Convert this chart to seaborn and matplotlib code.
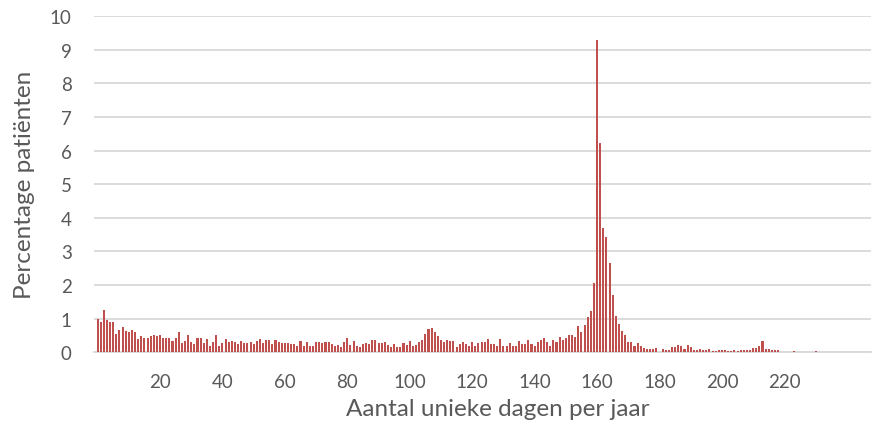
import matplotlib
matplotlib.use("Agg")
import matplotlib.pyplot as plt
import seaborn as sns
import pandas as pd

# ---- data ----
days = list(range(0, 248))
v_000_028 = [0.98, 0.90, 1.26, 0.97, 0.91, 0.90, 0.55, 0.66, 0.74, 0.64, 0.60, 0.66, 0.60, 0.40, 0.49,
             0.44, 0.44, 0.49, 0.52, 0.48, 0.51, 0.44, 0.44, 0.44, 0.35, 0.44, 0.60, 0.29, 0.33]
v_029_059 = [0.52, 0.32, 0.24, 0.42, 0.44, 0.27, 0.40, 0.19, 0.30, 0.52, 0.20, 0.27, 0.40, 0.32, 0.35,
             0.30, 0.26, 0.34, 0.28, 0.28, 0.30, 0.26, 0.33, 0.39, 0.27, 0.36, 0.36, 0.26, 0.36, 0.31,
             0.27]
v_060_091 = [0.27, 0.28, 0.24, 0.24, 0.19, 0.35, 0.19, 0.31, 0.20, 0.20, 0.30, 0.30, 0.27, 0.31, 0.31,
             0.25, 0.19, 0.22, 0.17, 0.31, 0.43, 0.22, 0.34, 0.19, 0.17, 0.24, 0.29, 0.25, 0.37, 0.36,
             0.27, 0.27]
v_092_122 = [0.31, 0.22, 0.15, 0.25, 0.15, 0.15, 0.28, 0.22, 0.34, 0.20, 0.22, 0.32, 0.36, 0.53, 0.70,
             0.73, 0.61, 0.47, 0.38, 0.31, 0.36, 0.35, 0.34, 0.16, 0.26, 0.30, 0.24, 0.19, 0.30, 0.19,
             0.28]
v_123_153 = [0.30, 0.31, 0.40, 0.25, 0.24, 0.18, 0.40, 0.19, 0.19, 0.28, 0.19, 0.19, 0.35, 0.25, 0.25,
             0.38, 0.24, 0.18, 0.32, 0.38, 0.43, 0.32, 0.20, 0.36, 0.30, 0.45, 0.36, 0.42, 0.52, 0.52,
             0.46]
v_154_160 = [0.77, 0.60, 0.82, 1.04, 1.22, 2.06, 9.30]
v_161_179 = [6.22, 3.71, 3.43, 2.66, 1.71, 1.09, 0.83, 0.63, 0.50, 0.32, 0.31, 0.20, 0.28, 0.18,
             0.13, 0.10, 0.10, 0.10, 0.12]
v_180_218 = [0.0, 0.10, 0.07, 0.07, 0.15, 0.15, 0.22, 0.19, 0.10, 0.22, 0.15, 0.07, 0.07, 0.10, 0.06,
             0.07, 0.10, 0.03, 0.03, 0.07, 0.07, 0.07, 0.04, 0.04, 0.07, 0.04, 0.07, 0.07, 0.07, 0.07,
             0.13, 0.13, 0.20, 0.34, 0.10, 0.10, 0.07, 0.07, 0.07]
v_219_247 = [0.0, 0.0, 0.0, 0.0, 0.03, 0.0, 0.0, 0.0, 0.0, 0.0, 0.0, 0.03, 0.0, 0.0, 0.0,
             0.0, 0.0, 0.0, 0.0, 0.0, 0.0, 0.0, 0.0, 0.0, 0.0, 0.0, 0.0, 0.0, 0.0]
percentages = (v_000_028 + v_029_059 + v_060_091 + v_092_122 + v_123_153
               + v_154_160 + v_161_179 + v_180_218 + v_219_247)
x_tick_labels = [20, 40, 60, 80, 100, 120, 140, 160, 180, 200, 220]
y_ticks = [0, 1, 2, 3, 4, 5, 6, 7, 8, 9, 10]
x_title = "Aantal unieke dagen per jaar"
y_title = "Percentage patiënten"

df = pd.DataFrame({"dag": days, "pct": percentages})

# ---- style ----
sns.set_style("white")
plt.rcParams["font.family"] = ["Lato", "DejaVu Sans"]

W, H = 878, 439
left_px, right_px, top_px, bottom_px = 94, 871, 17, 353.3
fig = plt.figure(figsize=(W / 100, H / 100), dpi=100)
ax = fig.add_axes([left_px / W, 1 - bottom_px / H,
                   (right_px - left_px) / W, (bottom_px - top_px) / H])

sns.barplot(data=df, x="dag", y="pct", order=days, color="#C0504D",
            saturation=1, width=0.66, ax=ax, edgecolor="none", linewidth=0)

ax.set_xlim(-1.15, len(days) - 0.25)
ax.set_ylim(0, 10)
ax.set_yticks(y_ticks)
ax.set_yticklabels([str(t) for t in y_ticks])
ax.set_xticks([days.index(d) for d in x_tick_labels])
ax.set_xticklabels([str(d) for d in x_tick_labels])

ax.yaxis.grid(True, color="#D9D9D9", linewidth=1.3)
ax.xaxis.grid(False)
ax.set_axisbelow(True)
for s in ["top", "right", "left"]:
    ax.spines[s].set_visible(False)
ax.spines["bottom"].set_color("#D9D9D9")
ax.spines["bottom"].set_linewidth(1.3)
ax.spines["bottom"].set_zorder(0.5)

ax.tick_params(axis="both", length=0, labelsize=13.5, colors="#595959")
ax.tick_params(axis="y", pad=16)
ax.tick_params(axis="x", pad=15)

ax.set_xlabel(x_title, fontsize=17.5, color="#595959")
ax.set_ylabel(y_title, fontsize=17.5, color="#595959")
ax.xaxis.label.set_va("center")
ax.yaxis.label.set_va("center")
ax.xaxis.set_label_coords(0.52, (bottom_px - 410) / (bottom_px - top_px))
ax.yaxis.set_label_coords((25 - left_px) / (right_px - left_px), 0.5)

fig.savefig("out.png", dpi=100)
